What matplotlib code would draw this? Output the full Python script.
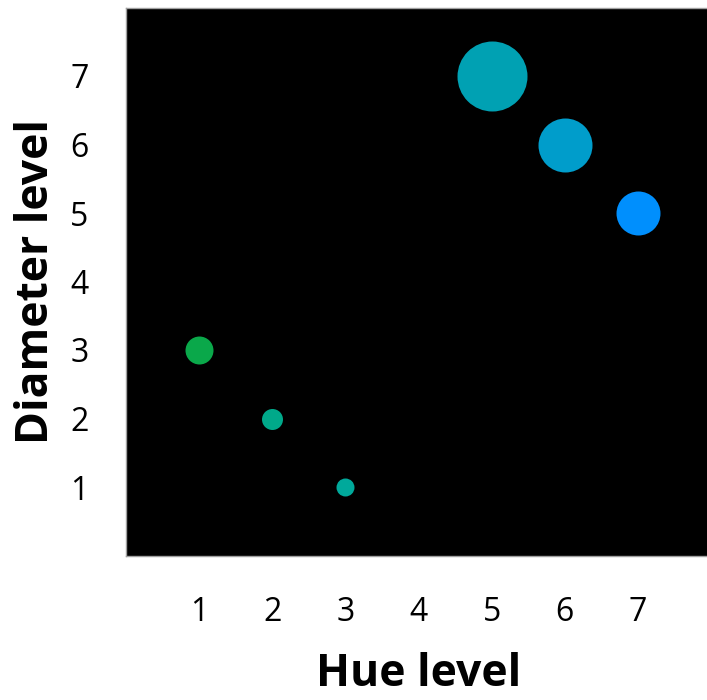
import matplotlib
matplotlib.use('Agg')
import matplotlib.pyplot as plt

plt.rcParams['font.family'] = ['Open Sans', 'DejaVu Sans']

# hue level (x), diameter level (y), marker diameter in px, colour
hue = [1, 2, 3, 5, 6, 7]
diameter = [3, 2, 1, 7, 6, 5]
dot_px = [28, 21, 18, 70, 54, 44]
colors = ['#0aa84a', '#00a98a', '#00a99b', '#00a1b3', '#009dcb', '#008ffd']

ticks = [1, 2, 3, 4, 5, 6, 7]

fig = plt.figure(figsize=(7.07, 7.0), dpi=100)
ax = fig.add_axes([126 / 707, 1 - 555.5 / 700, (711 - 126) / 707, 548 / 700])
ax.set_facecolor('black')

for x, y, d, c in zip(hue, diameter, dot_px, colors):
    ax.plot(x, y, 'o', markersize=d * 0.72, color=c, markeredgewidth=0)

ax.set_xlim(0, 8)
ax.set_ylim(0, 8)
ax.set_xticks(ticks)
ax.set_yticks(ticks)
ax.tick_params(length=0, labelsize=23)
ax.tick_params(axis='x', pad=29)
ax.tick_params(axis='y', pad=27)
for s in ax.spines.values():
    s.set_color('#a0a0a0')
    s.set_linewidth(1)

ax.set_xlabel('Hue level', fontsize=32, fontweight='bold', labelpad=17)
ax.set_ylabel('Diameter level', fontsize=32, fontweight='bold', labelpad=8)

plt.savefig('out.png', dpi=100)
